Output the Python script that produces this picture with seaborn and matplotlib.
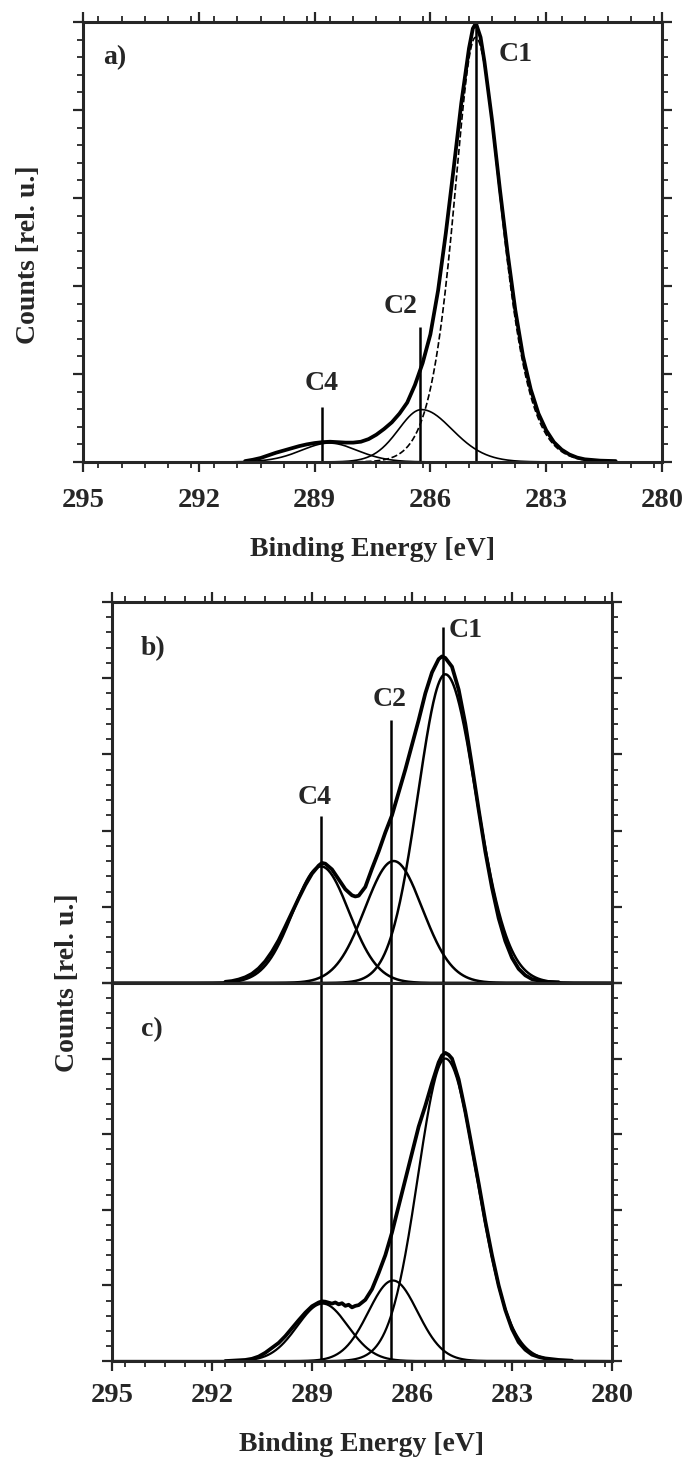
import numpy as np
import pandas as pd
import matplotlib
matplotlib.use("Agg")
import matplotlib.pyplot as plt
from matplotlib.ticker import MultipleLocator
import seaborn as sns

# binding energy axis
energy_ticks = [295, 292, 289, 286, 283, 280]
peak_names = ["C1", "C2", "C4"]

a_energy = [290.8, 290.6, 290.4, 290.2, 290.0, 289.8, 289.6, 289.4, 289.2, 289.0,
            288.8, 288.6, 288.4, 288.2, 288.0, 287.8, 287.6, 287.4, 287.2, 287.0,
            286.8, 286.6, 286.4, 286.2, 286.0, 285.8, 285.6, 285.4, 285.2, 285.0,
            284.9, 284.82, 284.7, 284.6, 284.4, 284.2, 284.0, 283.8, 283.6, 283.4,
            283.2, 283.0, 282.8, 282.6, 282.4, 282.2, 282.0, 281.6, 281.2]
a_counts = [0.002, 0.005, 0.009, 0.015, 0.021, 0.026, 0.031, 0.036, 0.040, 0.043,
            0.045, 0.046, 0.045, 0.044, 0.044, 0.046, 0.052, 0.062, 0.075, 0.090,
            0.110, 0.135, 0.175, 0.225, 0.290, 0.390, 0.520, 0.665, 0.815, 0.940,
            0.985, 0.997, 0.965, 0.910, 0.775, 0.620, 0.475, 0.345, 0.240, 0.165,
            0.110, 0.072, 0.045, 0.028, 0.017, 0.010, 0.006, 0.003, 0.002]

b_energy = [291.6, 291.4, 291.2, 291.0, 290.8, 290.6, 290.4, 290.2, 290.0, 289.8,
            289.6, 289.4, 289.2, 289.0, 288.8, 288.7, 288.6, 288.4, 288.2, 288.0,
            287.8, 287.7, 287.6, 287.4, 287.2, 287.0, 286.8, 286.6, 286.4, 286.2,
            286.0, 285.8, 285.6, 285.4, 285.2, 285.1, 285.0, 284.8, 284.6, 284.4,
            284.2, 284.0, 283.8, 283.6, 283.4, 283.2, 283.0, 282.8, 282.6, 282.4,
            282.0, 281.6]
b_counts = [0.003, 0.005, 0.009, 0.015, 0.024, 0.038, 0.057, 0.082, 0.112, 0.148,
            0.185, 0.222, 0.257, 0.287, 0.308, 0.315, 0.313, 0.298, 0.272, 0.246,
            0.230, 0.227, 0.229, 0.252, 0.300, 0.345, 0.395, 0.440, 0.500, 0.560,
            0.625, 0.690, 0.760, 0.815, 0.850, 0.857, 0.853, 0.830, 0.770, 0.680,
            0.570, 0.455, 0.345, 0.250, 0.170, 0.110, 0.066, 0.037, 0.020, 0.010,
            0.003, 0.002]

c_energy = [291.6, 291.2, 291.0, 290.8, 290.6, 290.4, 290.2, 290.0, 289.8, 289.6,
            289.4, 289.2, 289.0, 288.8, 288.7, 288.6, 288.4, 288.3, 288.2, 288.1,
            288.0, 287.9, 287.8, 287.7, 287.6, 287.4, 287.2, 287.0, 286.8, 286.6,
            286.4, 286.2, 286.0, 285.8, 285.6, 285.4, 285.2, 285.1, 285.0, 284.9,
            284.8, 284.6, 284.4, 284.2, 284.0, 283.8, 283.6, 283.4, 283.2, 283.0,
            282.8, 282.6, 282.4, 282.3, 282.2, 282.0, 281.6, 281.2]
c_counts = [0.000, 0.002, 0.003, 0.006, 0.012, 0.022, 0.035, 0.048, 0.066, 0.087,
            0.108, 0.128, 0.145, 0.155, 0.158, 0.157, 0.152, 0.155, 0.150, 0.153,
            0.146, 0.149, 0.142, 0.146, 0.148, 0.162, 0.190, 0.233, 0.280, 0.340,
            0.410, 0.480, 0.550, 0.620, 0.675, 0.735, 0.790, 0.808, 0.815, 0.810,
            0.800, 0.745, 0.660, 0.565, 0.470, 0.370, 0.280, 0.200, 0.135, 0.085,
            0.050, 0.030, 0.017, 0.014, 0.011, 0.007, 0.003, 0.001]

# fitted components: centre [eV], height, FWHM on high-BE / low-BE side [eV], Lorentz share
a_centers = [284.83, 286.23, 288.62]
a_heights = [0.965, 0.119, 0.043]
a_fwhm_high = [1.4, 1.5, 1.8]
a_fwhm_low = [1.65, 2.0, 1.8]
a_mix = [0.6, 0.3, 0.3]

b_centers = [285.0, 286.55, 288.73]
b_heights = [0.81, 0.32, 0.306]
b_fwhm_high = [2.0, 2.1, 2.05]
b_fwhm_low = [2.25, 2.1, 2.05]
b_mix = [0.15, 0.15, 0.15]

c_centers = [285.0, 286.57, 288.68]
c_heights = [0.80, 0.213, 0.152]
c_fwhm_high = [2.0, 1.8, 1.85]
c_fwhm_low = [2.3, 1.8, 1.85]
c_mix = [0.15, 0.15, 0.15]

# marker lines (position, top of line) and label positions
a_line_pos = [284.83, 286.27, 288.8]
a_line_top = [1.0, 0.307, 0.126]
a_label_pos = [(283.78, 0.927), (286.76, 0.354), (288.82, 0.179)]

b_line_pos = [285.08, 286.62, 288.74]
b_line_top = [0.934, 0.69, 0.438]
b_label_pos = [(284.38, 0.924), (286.66, 0.745), (288.92, 0.488)]

FONT = "Liberation Serif"


def gl_peak(e, c, h, w_high, w_low, m):
    # Gaussian-Lorentzian product shape, separate widths on both sides
    w = np.where(e >= c, w_high, w_low)
    r = ((e - c) / w) ** 2
    return h * np.exp(-4 * np.log(2) * (1 - m) * r) / (1 + 4 * m * r)


def components(centers, heights, w_high, w_low, mix):
    e = np.linspace(280, 295, 751)
    rows = []
    for name, c, h, wh, wl, m in zip(peak_names, centers, heights, w_high, w_low, mix):
        rows.append(pd.DataFrame({"energy": e, "counts": gl_peak(e, c, h, wh, wl, m), "peak": name}))
    return pd.concat(rows, ignore_index=True)


def style_axis(ax, top=True, bottom=True, labels=True, pad=10):
    ax.set_xlim(295, 280)
    ax.set_ylim(0, 1)
    ax.xaxis.set_minor_locator(MultipleLocator(0.6))
    ax.yaxis.set_major_locator(MultipleLocator(0.2))
    ax.yaxis.set_minor_locator(MultipleLocator(0.04))
    ax.set_xticks(energy_ticks)
    ax.set_xticklabels([str(t) for t in energy_ticks] if labels else [])
    ax.tick_params(which="both", direction="out", top=top, bottom=bottom,
                   left=True, right=True, labelleft=False, labelbottom=labels,
                   pad=pad, labelsize=20.5)
    ax.tick_params(which="major", length=7, width=1.6)
    ax.tick_params(which="minor", length=4, width=1.3)
    for sp in ax.spines.values():
        sp.set_linewidth(2.2)
        sp.set_visible(True)
    for t in ax.get_xticklabels():
        t.set_fontfamily(FONT)
        t.set_fontweight("bold")
    ax.set_xlabel("")
    ax.set_ylabel("")


def draw_panel(ax, comps, energy, counts, comp_lw, dashed=()):
    for name in peak_names:
        sub = comps[comps["peak"] == name]
        sns.lineplot(data=sub, x="energy", y="counts", ax=ax, color="black", lw=comp_lw,
                     linestyle="--" if name in dashed else "-", sort=False)
    sns.lineplot(x=energy, y=counts, ax=ax, color="black", lw=2.7, sort=False)


sns.set_style("ticks")
plt.rcParams["font.family"] = [FONT, "DejaVu Serif"]

fig = plt.figure(figsize=(6.88, 14.61), dpi=100)
ax_a = fig.add_axes([0.1206, 0.6838, 0.8416, 0.3012])
ax_b = fig.add_axes([0.1628, 0.3272, 0.7267, 0.2608])
ax_c = fig.add_axes([0.1628, 0.0684, 0.7267, 0.2588])

txt = dict(fontsize=20, fontweight="bold", family=FONT)

# ---- panel a ----
draw_panel(ax_a, components(a_centers, a_heights, a_fwhm_high, a_fwhm_low, a_mix),
           a_energy, a_counts, 1.2, dashed=("C1",))
ax_a.vlines(a_line_pos, 0, a_line_top, color="black", lw=1.8)
for name, (x, y) in zip(peak_names, a_label_pos):
    ax_a.text(x, y, name, ha="center", va="center", **txt)
ax_a.text(0.034, 0.918, "a)", transform=ax_a.transAxes, ha="left", va="center", **txt)
style_axis(ax_a, pad=12)
ax_a.set_xlabel("Binding Energy [eV]", labelpad=17, **txt)
fig.text(29 / 688, 1 - 255 / 1461, "Counts [rel. u.]", rotation=90, ha="center", va="center", **txt)

# ---- panel b ----
draw_panel(ax_b, components(b_centers, b_heights, b_fwhm_high, b_fwhm_low, b_mix),
           b_energy, b_counts, 1.8)
ax_b.vlines(b_line_pos, 0, b_line_top, color="black", lw=1.8)
for name, (x, y) in zip(peak_names, b_label_pos):
    ax_b.text(x, y, name, ha="center", va="center", **txt)
ax_b.text(0.058, 0.877, "b)", transform=ax_b.transAxes, ha="left", va="center", **txt)
style_axis(ax_b, bottom=False, labels=False)

# ---- panel c ----
draw_panel(ax_c, components(c_centers, c_heights, c_fwhm_high, c_fwhm_low, c_mix),
           c_energy, c_counts, 1.6)
for x in b_line_pos:
    ax_c.axvline(x, color="black", lw=1.8)
ax_c.text(0.058, 0.876, "c)", transform=ax_c.transAxes, ha="left", va="center", **txt)
style_axis(ax_c, top=False, pad=9)
ax_c.set_xlabel("Binding Energy [eV]", labelpad=17, **txt)

fig.text(68 / 688, 1 - 983 / 1461, "Counts [rel. u.]", rotation=90, ha="center", va="center", **txt)

fig.savefig("out.png", dpi=100)
